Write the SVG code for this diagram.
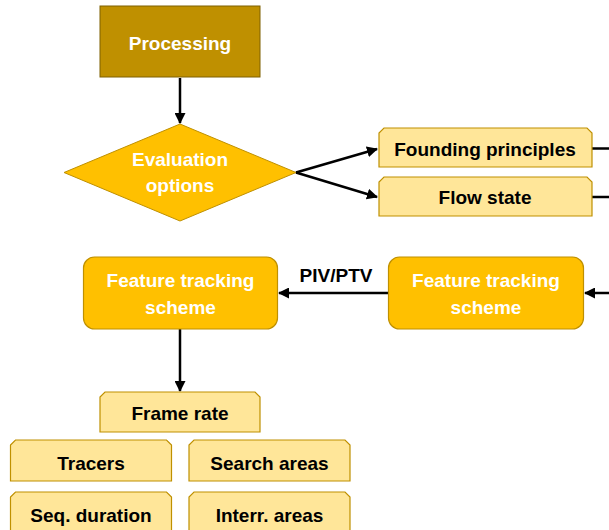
<svg xmlns="http://www.w3.org/2000/svg" width="609" height="530" viewBox="0 0 609 530">
<defs>
<marker id="ah" markerWidth="11" markerHeight="11" refX="10" refY="5.5" orient="auto" markerUnits="userSpaceOnUse">
<path d="M0,0 L11,5.5 L0,11 Z" fill="#000"/>
</marker>
<style>
.t{font-family:"Liberation Sans",Arial,sans-serif;font-weight:bold;font-size:19px;text-anchor:middle}
.w{fill:#fff}
.k{fill:#000}
.lt{fill:#FFE699;stroke:#BF9000;stroke-width:1.2}
.dk{fill:#FFC000;stroke:#BF9000;stroke-width:1.2}
.c{stroke:#000;stroke-width:2.5;fill:none}
</style>
</defs>
<rect width="609" height="530" fill="#fff"/>
<g id="connectors">
<line class="c" x1="180" y1="78" x2="180" y2="123" marker-end="url(#ah)"/>
<line class="c" x1="296" y1="172.5" x2="377" y2="149" marker-end="url(#ah)"/>
<line class="c" x1="296" y1="172.5" x2="377" y2="197" marker-end="url(#ah)"/>
<line class="c" x1="592" y1="148.5" x2="609" y2="148.5"/>
<line class="c" x1="592" y1="197" x2="609" y2="197"/>
<line class="c" x1="609" y1="293" x2="585" y2="293" marker-end="url(#ah)"/>
<line class="c" x1="388" y1="293" x2="279" y2="293" marker-end="url(#ah)"/>
<line class="c" x1="180" y1="329" x2="180" y2="391" marker-end="url(#ah)"/>
<text class="t k" x="336" y="282">PIV/PTV</text>
</g>
<g id="processing">
<rect x="100" y="6" width="160" height="71" fill="#BF9000" stroke="#7F6000" stroke-width="1"/>
<text class="t w" x="180" y="49.5">Processing</text>
</g>
<g id="evaluation">
<polygon points="180,124 296,172.5 180,221 64,172.5" fill="#FFC000" stroke="#BF9000" stroke-width="1"/>
<text class="t w" x="180" y="166">Evaluation</text>
<text class="t w" x="180" y="192">options</text>
</g>
<g id="founding">
<path class="lt" d="M384,128 H587 L592,133 V167 H379 V133 Z"/>
<text class="t k" x="485" y="155.5">Founding principles</text>
</g>
<g id="flowstate">
<path class="lt" d="M384,177 H587 L592,182 V216 H379 V182 Z"/>
<text class="t k" x="485" y="204">Flow state</text>
</g>
<g id="fts-left">
<rect class="dk" x="83.5" y="257" width="194" height="72" rx="11"/>
<text class="t w" x="180.5" y="286.5">Feature tracking</text>
<text class="t w" x="180.5" y="313.5">scheme</text>
</g>
<g id="fts-right">
<rect class="dk" x="388.5" y="257" width="195" height="72" rx="11"/>
<text class="t w" x="486" y="286.5">Feature tracking</text>
<text class="t w" x="486" y="313.5">scheme</text>
</g>
<g id="framerate">
<path class="lt" d="M105,392 H255 L260,397 V432 H100 V397 Z"/>
<text class="t k" x="180" y="419.5">Frame rate</text>
</g>
<g id="tracers">
<path class="lt" d="M15.5,440 H166.5 L171.5,445 V481 H10.5 V445 Z"/>
<text class="t k" x="91" y="469.5">Tracers</text>
</g>
<g id="search">
<path class="lt" d="M194,440 H345 L350,445 V481 H189 V445 Z"/>
<text class="t k" x="269.5" y="469.5">Search areas</text>
</g>
<g id="seq">
<path class="lt" d="M15.5,492 H166.5 L171.5,497 V535 H10.5 V497 Z"/>
<text class="t k" x="91" y="521.5">Seq. duration</text>
</g>
<g id="interr">
<path class="lt" d="M194,492 H345 L350,497 V535 H189 V497 Z"/>
<text class="t k" x="269.5" y="521.5">Interr. areas</text>
</g>
</svg>
